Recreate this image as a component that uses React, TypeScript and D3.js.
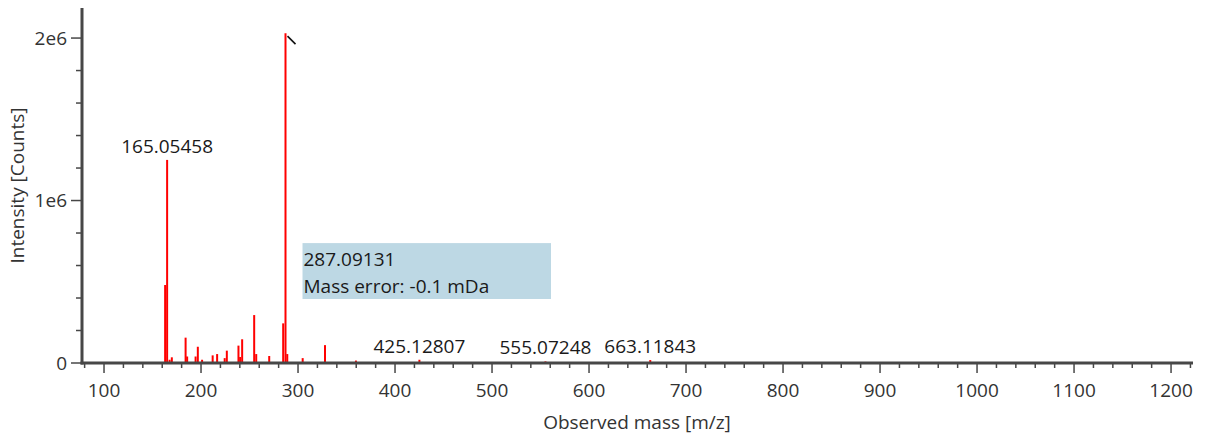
import React from "react";
import * as d3 from "d3";

// peak list (m/z, counts)
const peakMz = [
  163.0, 165.05458, 167.6, 169.9, 184.1, 185.7, 194.4, 196.7, 201.1, 212.0,
  216.6, 224.4, 226.6, 238.6, 240.3, 242.4, 254.8, 256.9, 270.3, 284.7,
  287.09131, 288.9, 304.8, 327.8, 359.7, 425.12807, 555.07248, 663.11843,
];
const peakIntensity = [
  480000, 1250000, 20000, 35000, 156000, 40000, 40000, 100000, 20000, 47000,
  55000, 30000, 76000, 107000, 37000, 146000, 295000, 55000, 43000, 244000,
  2030000, 55000, 30000, 110000, 15000, 20000, 10000, 18000,
];

// labelled peaks
const labelMz = [165.05458, 425.12807, 555.07248, 663.11843];
const labelText = ["165.05458", "425.12807", "555.07248", "663.11843"];

// selected peak and its info box
const selectedMz = 287.09131;
const selectedLines = ["287.09131", "Mass error: -0.1 mDa"];

const xMajorTicks = [100, 200, 300, 400, 500, 600, 700, 800, 900, 1000, 1100, 1200];
const yMajorTicks = [0, 1000000, 2000000];
const yTickLabels = ["0", "1e6", "2e6"];

const W = 1205;
const H = 437;
const FONT = "'Open Sans', 'Noto Sans', sans-serif";
const FS = 19;
const AXIS = "#474747";

export default function App() {
  const x = d3.scaleLinear().domain([77.3, 1221.6]).range([82, 1192]);
  const y = d3.scaleLinear().domain([0, 2185000]).range([363, 8]);

  const xMinor = d3.range(80, 1221, 20).filter((v) => v % 100 !== 0);
  const yMinor = d3.range(0, 2100001, 200000).filter((v) => v % 1000000 !== 0);

  const intensityAt = (mz: number) => {
    const i = peakMz.indexOf(mz);
    return peakIntensity[i];
  };

  const selX = x(selectedMz);
  const selTop = y(intensityAt(selectedMz));
  const boxLeft = selX + 17;
  const boxTop = y(738000);
  const boxBottom = y(394000);

  return (
    <div style={{ position: "absolute", left: 0, top: 0 }}>
      <svg width={W} height={H} style={{ display: "block", background: "#fff" }}>
        {/* peaks */}
        <g>
          {peakMz.map((mz, i) => (
            <line
              key={i}
              x1={x(mz)}
              x2={x(mz)}
              y1={y(0)}
              y2={y(peakIntensity[i])}
              stroke="#ff0000"
              strokeWidth={2}
            />
          ))}
        </g>

        {/* peak labels */}
        {labelMz.map((mz, i) => (
          <text
            key={i}
            x={x(mz)}
            y={y(intensityAt(mz)) - 7}
            textAnchor="middle"
            fontFamily={FONT}
            fontSize={FS}
            fill="#1a1a1a"
          >
            {labelText[i]}
          </text>
        ))}

        {/* selected peak marker + info box */}
        <line x1={selX + 2} y1={selTop + 3} x2={selX + 10} y2={selTop + 11} stroke="#111" strokeWidth={1.6} />
        <rect
          x={boxLeft}
          y={boxTop}
          width={x(560.8) - boxLeft}
          height={boxBottom - boxTop}
          fill="#bdd8e4"
        />
        {selectedLines.map((t, i) => (
          <text
            key={i}
            x={boxLeft + 1}
            y={boxTop + 23 + i * 27}
            fontFamily={FONT}
            fontSize={FS}
            fill="#1a1a1a"
          >
            {t}
          </text>
        ))}

        {/* x axis */}
        <g>
          {xMinor.map((v) => (
            <line key={v} x1={x(v)} x2={x(v)} y1={y(0)} y2={y(0) + 5} stroke={AXIS} strokeWidth={1.5} />
          ))}
          {xMajorTicks.map((v) => (
            <g key={v}>
              <line x1={x(v)} x2={x(v)} y1={y(0)} y2={y(0) + 10} stroke={AXIS} strokeWidth={1.5} />
              <text
                x={x(v)}
                y={y(0) + 34}
                textAnchor="middle"
                fontFamily={FONT}
                fontSize={FS}
                fill="#333"
              >
                {v}
              </text>
            </g>
          ))}
          <line x1={80.5} x2={1193} y1={y(0)} y2={y(0)} stroke={AXIS} strokeWidth={3} />
          <text
            x={(82 + 1192) / 2}
            y={429}
            textAnchor="middle"
            fontFamily={FONT}
            fontSize={FS}
            fill="#333"
          >
            Observed mass [m/z]
          </text>
        </g>

        {/* y axis */}
        <g>
          {yMinor.map((v) => (
            <line key={v} x1={76} x2={82} y1={y(v)} y2={y(v)} stroke={AXIS} strokeWidth={1.5} />
          ))}
          {yMajorTicks.map((v, i) => (
            <g key={v}>
              <line x1={71} x2={82} y1={y(v)} y2={y(v)} stroke={AXIS} strokeWidth={1.5} />
              <text
                x={67}
                y={y(v)}
                dy="0.35em"
                textAnchor="end"
                fontFamily={FONT}
                fontSize={FS}
                fill="#333"
              >
                {yTickLabels[i]}
              </text>
            </g>
          ))}
          <line x1={82} x2={82} y1={8} y2={364.5} stroke={AXIS} strokeWidth={3} />
          <text
            transform={`translate(24, ${(8 + 363) / 2}) rotate(-90)`}
            textAnchor="middle"
            fontFamily={FONT}
            fontSize={FS}
            fill="#333"
          >
            Intensity [Counts]
          </text>
        </g>
      </svg>
    </div>
  );
}
